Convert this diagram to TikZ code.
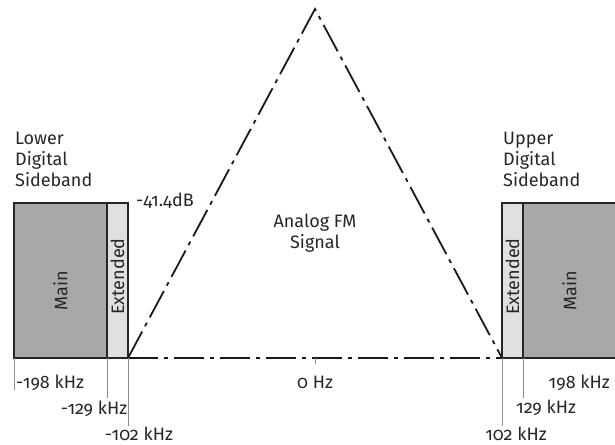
\documentclass[tikz,border=0pt]{standalone}
\usepackage{fontspec}
\setmainfont{Fira Sans}[Numbers=OldStyle]
\usetikzlibrary{calc}

\begin{document}
\begin{tikzpicture}[x=1pt,y=-1pt,
    font=\fontsize{18}{21}\selectfont,
    band/.style={draw=black!85,line width=1.6pt,inner sep=0pt,outer sep=0pt,
      anchor=south west,minimum height=155pt},
    mainband/.style={band,fill=black!34,minimum width=93pt},
    extband/.style={band,fill=black!12,minimum width=21pt},
    tick/.style={draw=black!45,line width=0.6pt},
    fm/.style={black!90,line width=1.8pt,dash pattern=on 30pt off 6pt on 4pt off 6pt},
    lbl/.style={inner sep=1pt,text=black!85}]
    \useasboundingbox (0,0) rectangle (615,444);

    % sideband blocks
    \node [mainband] (lmain) at (14,358) {};
    \node [extband] (lext) at (lmain.south east) {};
    \node [extband] (rext) at (502,358) {};
    \node [mainband] (rmain) at (rext.south east) {};
    \node [lbl,rotate=90] (lmaintxt) at ($(lmain.center)+(0,10)$) {Main};
    \node [lbl,rotate=90] (lexttxt) at ($(lext.center)+(0,-4)$) {Extended};
    \node [lbl,rotate=90] (rexttxt) at ($(rext.center)+(0,-4)$) {Extended};
    \node [lbl,rotate=90] (rmaintxt) at ($(rmain.center)+(0,10)$) {Main};

    % analog signal
    \coordinate (apex) at (315,9);
    \draw [fm] (lext.south east) -- (apex) -- (rext.south west);
    \draw [fm] (lext.south east) -- (rext.south west);

    \node [lbl,anchor=north west,align=left] (lower) at (14,131) {Lower\\Digital\\Sideband};
    \node [lbl,anchor=north west,align=left] (upper) at (502,131) {Upper\\Digital\\Sideband};
    \node [lbl,anchor=west] (db) at (135,201) {-41.4dB};
    \node [lbl,align=center] (fmtxt) at (315,233) {Analog FM\\Signal};

    % frequency marks
    \coordinate (zero) at (315,358);
    \node [lbl] (f0) at (315,382) {0 Hz};
    \node [lbl,anchor=west] (fm198) at (15,383) {-198 kHz};
    \node [lbl] (fm129) at (94,409) {-129 kHz};
    \node [lbl,inner sep=0pt] (fm102) at (139,434) {-102 kHz};
    \node [lbl,inner sep=0pt] (fp102) at (516,434) {102 kHz};
    \node [lbl] (fp129) at (546,408) {129 kHz};
    \node [lbl,anchor=east] (fp198) at (611,383) {198 kHz};
    \draw [tick] (zero) -- ++(0,6);
    \draw [tick] (lmain.south west) -- ++(0,32);
    \draw [tick] (lmain.south east) -- ++(0,40);
    \draw [tick] (lext.south east) -- ++(0,68);
    \draw [tick] (rext.south west) -- ++(0,68);
    \draw [tick] (rext.south east) -- ++(0,40);
    \draw [tick] (rmain.south east) -- ++(0,34);
\end{tikzpicture}
\end{document}
